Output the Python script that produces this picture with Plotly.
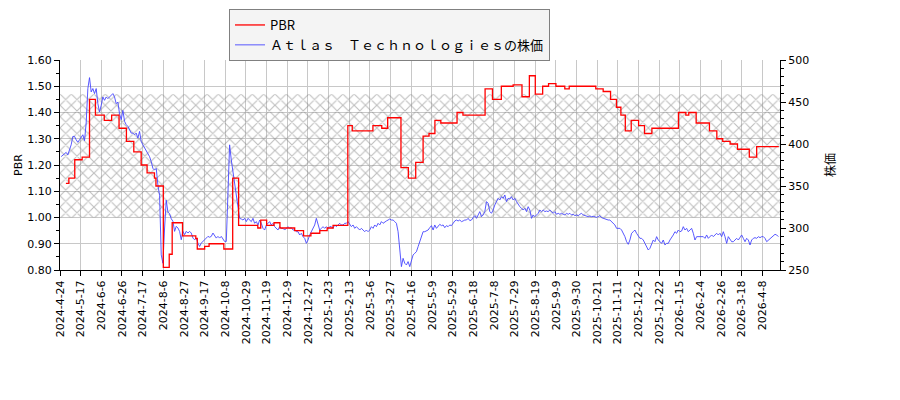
import plotly.graph_objects as go

# x axis: trading-day index, a date label every 14 trading days
tick_labels = [
    "2024-4-24", "2024-5-17", "2024-6-6", "2024-6-26", "2024-7-17", "2024-8-6",
    "2024-8-27", "2024-9-17", "2024-10-8", "2024-10-29", "2024-11-19", "2024-12-9",
    "2024-12-27", "2025-1-23", "2025-2-13", "2025-3-6", "2025-3-27", "2025-4-16",
    "2025-5-9", "2025-5-29", "2025-6-18", "2025-7-8", "2025-7-29", "2025-8-19",
    "2025-9-9", "2025-9-30", "2025-10-21", "2025-11-11", "2025-12-2", "2025-12-22",
    "2026-1-15", "2026-2-4", "2026-2-26", "2026-3-18", "2026-4-8",
]
tick_step = 14
x_end = 487.8

# share price, sampled about every 1.13 trading days
price_x0 = 0.79
price_dx = 1.13
price = [
    385, 387, 389, 390, 387, 393, 399, 409, 409, 405, 402, 405, 409, 411, 404, 425,
    466, 479, 462, 466, 460, 466, 448, 438, 446, 456, 452, 456, 454, 456, 459, 460,
    456, 448, 450, 436, 429, 440, 427, 423, 421, 417, 413, 413, 411, 413, 407, 415,
    403, 399, 395, 391, 389, 385, 379, 371, 369, 371, 351, 339, 268, 258, 300, 333,
    319, 317, 311, 308, 296, 302, 300, 296, 286, 296, 292, 296, 294, 296, 294, 288,
    286, 288, 282, 278, 282, 284, 286, 288, 290, 289, 290, 294, 290, 288, 290, 288,
    290, 286, 284, 284, 355, 399, 381, 368, 355, 339, 330,
    311.5, 310.7, 309.5, 311.5, 307.6, 311.5, 309.5, 307.6, 311.5, 305.6,
    307.6, 303.6, 309.5, 305.6, 299.6, 297.6, 303.6, 305.6, 307.6, 303.6,
    305.6, 301.6, 299.6, 297.6, 301.6, 299.6, 299.6, 297.6, 299.6, 301.6,
    299.6, 300.4, 297.6, 297.6, 295.6, 295.6, 291.7, 293.7, 289.7, 287.7,
    281.8, 285.7, 291.7, 295.6, 299.6, 303.6, 311.5, 303.6, 297.6, 299.6,
    301.6, 299.6, 301.6, 299.6, 301.6, 301.6, 299.6, 303.6, 301.6, 303.6,
    305.6, 303.6, 303.6, 305.6, 305.6, 307.6, 303.6, 301.6, 303.6, 299.6,
    301.6, 299.6, 297.6, 299.6, 297.6, 295.6, 297.6, 295.6, 297.6, 301.6,
    299.6, 303.6, 301.6, 305.6, 303.6, 307.6, 305.6, 307.6, 308.4, 309.5,
    310.7, 309.5, 309.5, 307.6, 305.6, 295.6, 271.8, 254.0, 263.9, 258.0,
    256.0, 260.0, 254.0, 262.0, 267.9, 269.9, 271.8, 277.8, 283.7, 291.7,
    295.6,
    295.6, 296.4, 297.6, 300.4, 302.8, 297.6, 303.6, 299.6, 301.6, 304.4,
    302.8, 303.6, 300.4, 302.8, 301.6, 303.6, 302.8, 305.6, 308.4, 309.5,
    308.4, 309.5, 307.6, 308.4, 309.5, 309.5, 311.5, 308.8, 309.5, 312.3,
    314.7, 311.5, 315.5, 319.5, 313.5, 315.5, 319.5, 331.4, 329.4, 319.5,
    317.5, 321.4, 327.4, 331.4, 335.3, 333.3, 337.3, 335.3, 339.3, 331.4,
    335.3, 334.5, 337.3, 333.3, 335.3, 331.4, 327.4, 325.4, 323.4, 321.4,
    323.4, 319.5, 325.4, 321.4, 311.5, 315.5, 313.5, 315.5, 317.5, 321.4,
    319.5, 321.4, 319.5, 320.2, 319.5, 321.4, 319.5, 317.5, 319.5, 316.3,
    317.5, 316.3, 317.5, 316.3, 315.5, 317.5, 316.3, 317.5, 315.5, 316.3,
    314.7, 315.5, 314.7, 316.3, 317.5, 315.5, 314.7, 313.5, 313.5, 314.3,
    313.5, 313.9, 313.5, 312.7, 313.5, 314.7, 312.3, 311.5, 310.3, 309.5,
    309.5,
    309.5, 307.6, 305.6, 303.6, 299.6, 299.6, 299.6, 297.6, 293.7, 289.7,
    283.7, 280.6, 285.7, 293.7, 295.6, 297.6, 293.7, 289.7, 287.7, 287.7,
    285.7, 281.7, 277.8, 273.8, 275.8, 281.7, 285.7, 283.7, 289.7, 285.7,
    283.7, 281.7, 285.7, 279.8, 281.7, 281.7, 285.7, 289.7, 291.7, 295.6,
    293.7, 297.6, 295.6, 296.4, 301.6, 297.6, 299.6, 295.6, 297.6, 299.6,
    293.7, 285.7, 289.7, 289.7, 289.7, 289.7, 289.7, 287.7, 291.7, 287.7,
    289.7, 291.7, 289.7, 291.7, 293.7, 291.7, 293.7, 289.7, 295.6, 289.7,
    281.7, 289.7, 285.7, 283.7, 283.7, 285.7, 287.7, 285.7, 289.7, 291.7,
    287.7, 283.7, 287.7, 285.7, 279.8, 285.7, 287.7, 288.5, 287.7, 289.7,
    288.5, 289.7, 289.7, 287.7, 283.7, 285.7, 287.7, 289.7, 291.7, 292.5,
    291.7, 289.7,
]

# PBR changes (trading-day index where a new value starts)
pbr_idx = [
    4, 6, 10, 15, 20, 24, 30, 35, 40, 45, 50, 55, 59, 64, 65, 70, 74, 76, 83, 92,
    93, 98, 101, 111, 117, 121, 134, 136, 140, 145, 149, 159, 165, 170, 176, 181,
    185, 195, 198, 212, 218, 222, 231, 236, 241, 246, 250, 254, 258, 269, 273, 288,
    293, 299, 307, 313, 318, 322, 327, 331, 336, 342, 345, 363, 368, 373, 377, 380,
    383, 387, 392, 396, 401, 419, 424, 426, 431, 440, 445, 449, 454, 459, 467, 472,
    487,
]
pbr_val = [
    1.13, 1.15, 1.22, 1.23, 1.45, 1.39, 1.37, 1.39, 1.34, 1.29, 1.25, 1.20, 1.17,
    1.15, 1.12, 0.81, 0.86, 0.98, 0.93, 0.92, 0.88, 0.89, 0.90, 0.88, 1.15, 0.97,
    0.96, 0.99, 0.97, 0.98, 0.96, 0.95, 0.93, 0.94, 0.95, 0.96, 0.97, 1.35, 1.33,
    1.35, 1.34, 1.38, 1.19, 1.15, 1.21, 1.31, 1.32, 1.37, 1.36, 1.40, 1.39, 1.49,
    1.45, 1.50, 1.505, 1.46, 1.54, 1.47, 1.50, 1.51, 1.50, 1.49, 1.50, 1.49, 1.48,
    1.45, 1.42, 1.39, 1.33, 1.37, 1.35, 1.32, 1.34, 1.40, 1.39, 1.40, 1.36, 1.33,
    1.30, 1.29, 1.28, 1.26, 1.23, 1.27, 1.27,
]

# hatched PBR band
band = [1.00, 1.47]
pbr_range = [0.8, 1.6]
price_range = [250, 500]


def pbr_to_price(v):
    f = (v - pbr_range[0]) / (pbr_range[1] - pbr_range[0])
    return price_range[0] + f * (price_range[1] - price_range[0])


lo, hi = pbr_to_price(band[0]), pbr_to_price(band[1])
price_x = [price_x0 + i * price_dx for i in range(len(price))]

fig = go.Figure()

fig.add_trace(go.Scatter(
    x=[0, x_end, x_end, 0, 0], y=[lo, lo, hi, hi, lo],
    mode="lines", line=dict(width=0), fill="toself",
    fillcolor="rgba(0,0,0,0)",
    fillpattern=dict(shape="x", fgcolor="#7c7c7c", bgcolor="rgba(0,0,0,0)",
                     size=8, solidity=0.25),
    hoverinfo="skip", showlegend=False, yaxis="y",
))

fig.add_trace(go.Scatter(
    x=price_x, y=price, mode="lines",
    name="Ａｔｌａｓ　Ｔｅｃｈｎｏｌｏｇｉｅｓの株価",
    line=dict(color="#4646ff", width=0.9), yaxis="y", legendrank=2,
))

fig.add_trace(go.Scatter(
    x=pbr_idx, y=pbr_val, mode="lines", name="PBR",
    line=dict(color="#ff0000", width=1.3, shape="hv"), yaxis="y2", legendrank=1,
))

axis_font = dict(family="DejaVu Sans", size=11, color="#000000")

# the page body adds an 8px offset, so margins are 8px smaller than the picture
fig.update_layout(
    width=900, height=400,
    margin=dict(l=52, r=128, t=52, b=138, autoexpand=False),
    paper_bgcolor="white", plot_bgcolor="white",
    font=axis_font,
    showlegend=True,
    legend=dict(
        x=(221 - 52) / 720, y=1 + 51 / 210, xanchor="left", yanchor="top",
        bgcolor="#f4f4f4", bordercolor="#808080", borderwidth=1,
        font=dict(family="Noto Sans CJK JP", size=13, color="#000000"),
        itemwidth=30, tracegroupgap=0,
    ),
    xaxis=dict(
        range=[0, x_end], automargin=False,
        tickmode="array",
        tickvals=[i * tick_step for i in range(len(tick_labels))],
        ticktext=tick_labels,
        tickangle=-90,
        showgrid=True, gridcolor="#c8c8c8", gridwidth=1,
        showline=True, linecolor="#000000", linewidth=1,
        ticks="outside", ticklen=5, tickcolor="#000000",
        zeroline=False,
    ),
    yaxis=dict(
        range=price_range, side="right", automargin=False,
        dtick=50, tick0=250,
        showgrid=False, zeroline=False,
        showline=True, linecolor="#000000", linewidth=1,
        ticks="outside", ticklen=5, tickcolor="#000000",
        minor=dict(dtick=10, ticks="outside", ticklen=3, tickcolor="#000000",
                   showgrid=False),
        title=dict(text="株価", font=dict(family="Noto Sans CJK JP", size=12),
                   standoff=18),
    ),
    yaxis2=dict(
        range=pbr_range, side="left", overlaying="y", automargin=False,
        dtick=0.1, tick0=0.8, tickformat=".2f",
        showgrid=True, gridcolor="#c8c8c8", gridwidth=1, zeroline=False,
        showline=True, linecolor="#000000", linewidth=1,
        ticks="outside", ticklen=5, tickcolor="#000000",
        minor=dict(dtick=0.05, ticks="outside", ticklen=3, tickcolor="#000000",
                   showgrid=False),
        title=dict(text="PBR", font=dict(family="DejaVu Sans", size=11),
                   standoff=2),
    ),
)

fig.write_html("out.html")
